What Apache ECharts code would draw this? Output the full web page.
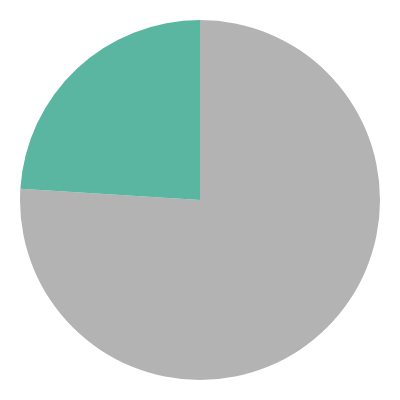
<!DOCTYPE html>
<html><head><meta charset="utf-8">
<script src="https://cdn.jsdelivr.net/npm/echarts@6/dist/echarts.min.js"></script>
<style>html,body{margin:0;padding:0;background:#fff}#c{width:400px;height:400px}</style>
</head><body><div id="c"></div>
<script>
const categories = ['A', 'B'];
const values = [76, 24];
const colors = ['#b3b3b3', '#5ab6a0'];
const chart = echarts.init(document.getElementById('c'));
chart.setOption({
  animation: false,
  series: [{
    type: 'pie',
    center: ['50%', '50%'],
    radius: '90%',
    startAngle: 90,
    clockwise: true,
    label: { show: false },
    labelLine: { show: false },
    itemStyle: { borderWidth: 0 },
    data: categories.map((c, i) => ({ name: c, value: values[i], itemStyle: { color: colors[i] } }))
  }]
});
</script></body></html>
